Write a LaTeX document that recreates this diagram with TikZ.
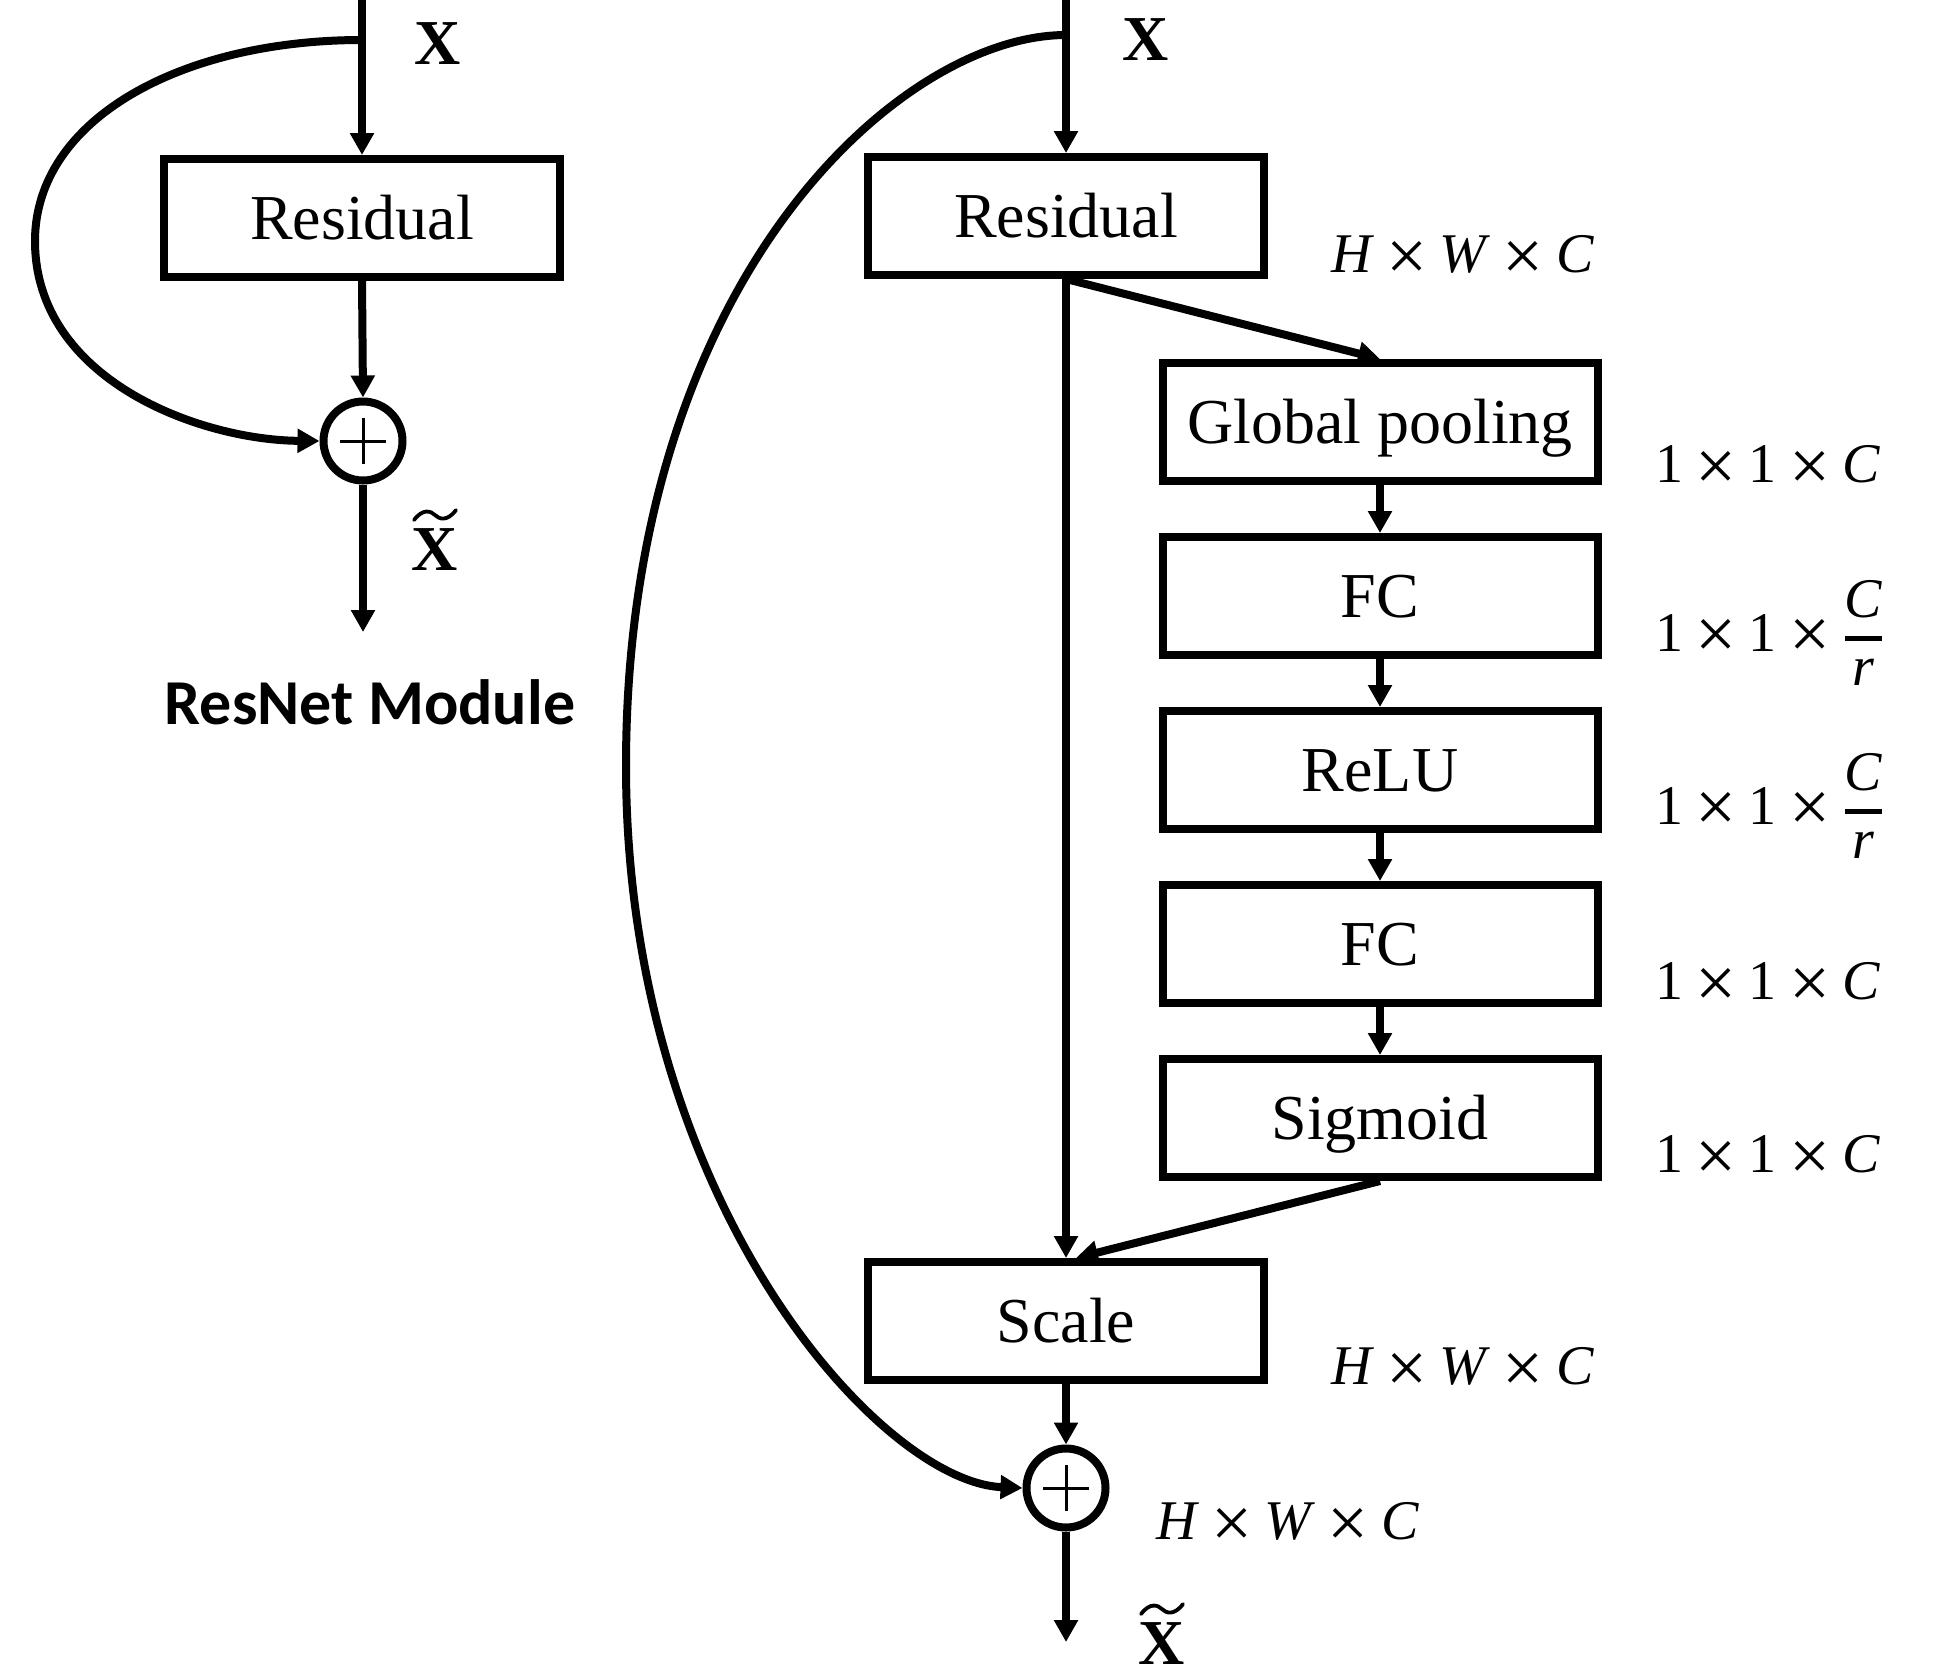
\documentclass[tikz,border=0pt]{standalone}
\usepackage{fontspec}
\usepackage{amsmath}
\usepackage{graphicx}
\setmainfont{Liberation Serif}
\newfontfamily\carlito{Carlito}
\usetikzlibrary{arrows.meta,calc}
\newcommand{\tm}{\hspace{0.22em}\raisebox{-0.13em}{\scalebox{1.3}{×}}\hspace{0.22em}}
\newcommand{\fr}{$\genfrac{}{}{2.6pt}{0}{\hbox{\itshape C}}{\hbox{\itshape r}}$}
\begin{document}
\begin{tikzpicture}[x=0.5pt,y=-0.5pt,line width=4pt,
  box/.style={draw,line width=4pt,minimum width=198pt,minimum height=59pt,inner sep=0pt,
    text height=21pt,text depth=0pt,font=\fontsize{32}{38}\selectfont},
  chain/.style={box,minimum width=217.5pt},
  sum/.style={draw,circle,line width=4pt,minimum size=39.5pt,inner sep=0pt,
    path picture={\draw[line width=1.5pt]
      ([xshift=-11.5pt]path picture bounding box.center) -- ([xshift=11.5pt]path picture bounding box.center)
      ([yshift=-11.5pt]path picture bounding box.center) -- ([yshift=11.5pt]path picture bounding box.center);}},
  arr/.style={-{Triangle[width=11.5pt,length=11pt]}},
  lbl/.style={inner sep=0pt,anchor=west,font=\fontsize{28}{34}\selectfont},
  xl/.style={inner sep=0pt,font=\fontsize{32}{38}\selectfont\bfseries},
  tilde/.style={line width=1.9pt,line cap=round}]
\useasboundingbox (0,0) rectangle (1936,1676);
% ---------------- left: ResNet module
\coordinate (in1) at (362,0);
\coordinate (s1) at (362,40);
\coordinate (out1) at (363,632);
\node[box] (res1) at (362,218) {Residual};
\node[sum] (sum1) at (363,441) {};
\node[xl] (x1) at (438,44) {X};
\node[xl] (xt1) at (435,550) {X};
\begin{scope}[shift={(xt1.north)},x=1pt,y=1pt]
  \draw[tilde] (-10.5,2.5) .. controls (-6,8.5) and (-2,7) .. (0,5) .. controls (2,3) and (6,1.5) .. (10.5,7.5);
\end{scope}
\node[font=\carlito\bfseries\fontsize{32}{38}\selectfont,inner sep=0pt] (cap) at (370,702) {ResNet Module};
\draw[arr] (in1) -- (res1.north);
\draw[arr] (res1.south) -- (sum1.north);
\draw[arr] (sum1.south) -- (out1);
\draw[arr] (s1) .. controls (180,40) and (35,120) .. (35,241)
  .. controls (35,380) and (200,440) .. (sum1.west);
% ---------------- right: SE module
\coordinate (in2) at (1066,0);
\coordinate (s2) at (1066,35);
\coordinate (out2) at (1066,1642);
\node[box] (res2) at (1066,216) {Residual};
\node[chain] (gp) at (1380,422) {Global pooling};
\node[chain] (fc1) at (1380,596) {FC};
\node[chain] (relu) at (1380,770) {ReLU};
\node[chain] (fc2) at (1380,944) {FC};
\node[chain] (sig) at (1380,1118) {Sigmoid};
\node[box] (scale) at (1066,1321) {Scale};
\node[sum] (sum2) at (1066,1488) {};
\node[xl] (x2) at (1146,40) {X};
\node[xl] (xt2) at (1162,1644) {X};
\begin{scope}[shift={(xt2.north)},x=1pt,y=1pt]
  \draw[tilde] (-10.5,2.5) .. controls (-6,8.5) and (-2,7) .. (0,5) .. controls (2,3) and (6,1.5) .. (10.5,7.5);
\end{scope}
\node[lbl] (l0) at (1327,258) {\textit{H}\tm\textit{W}\tm\textit{C}};
\node[lbl] (l1) at (1651,468) {1\tm1\tm\textit{C}};
\node[lbl] (l2) at (1651,633) {1\tm1\tm\fr};
\node[lbl] (l3) at (1651,806) {1\tm1\tm\fr};
\node[lbl] (l4) at (1651,985) {1\tm1\tm\textit{C}};
\node[lbl] (l5) at (1651,1158) {1\tm1\tm\textit{C}};
\node[lbl] (l6) at (1327,1370) {\textit{H}\tm\textit{W}\tm\textit{C}};
\node[lbl] (l7) at (1152,1525) {\textit{H}\tm\textit{W}\tm\textit{C}};
\draw[arr] (in2) -- (res2.north);
\draw[arr] (res2.south) -- (scale.north);
\draw[arr] (res2.south) -- (gp.north);
\draw[arr] (gp.south) -- (fc1.north);
\draw[arr] (fc1.south) -- (relu.north);
\draw[arr] (relu.south) -- (fc2.north);
\draw[arr] (fc2.south) -- (sig.north);
\draw[arr] (sig.south) -- ([xshift=5pt]scale.north);
\draw[arr] (scale.south) -- (sum2.north);
\draw[arr] (sum2.south) -- (out2);
\draw[arr] (s2) .. controls (900,35) and (626,280) .. (626,766)
  .. controls (626,1200) and (880,1482) .. (sum2.west);
\end{tikzpicture}
\end{document}
